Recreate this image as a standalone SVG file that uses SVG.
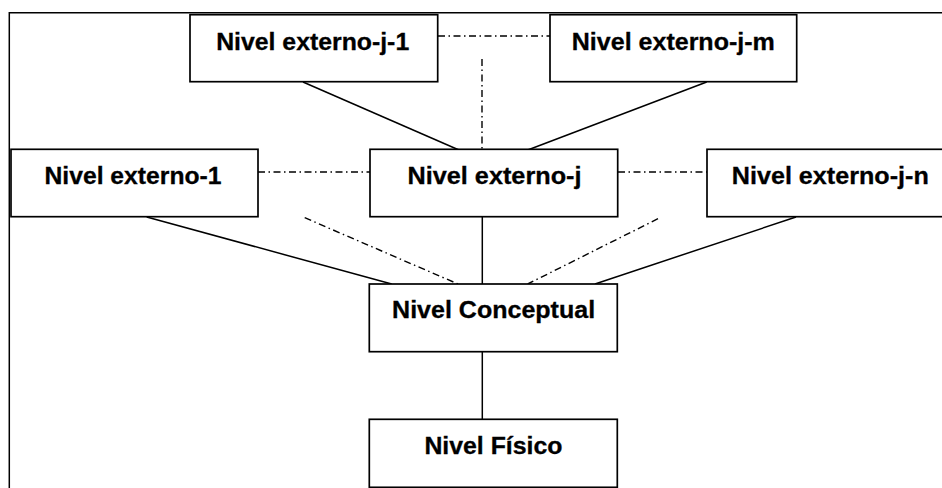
<svg xmlns="http://www.w3.org/2000/svg" width="942" height="488" viewBox="0 0 942 488">
  <style>
    .box { fill: #ffffff; stroke: #000000; stroke-width: 1.7; }
    .frame { fill: none; stroke: #000000; stroke-width: 1.5; }
    .link { fill: none; stroke: #000000; stroke-width: 1.5; }
    .alt { fill: none; stroke: #000000; stroke-width: 1.4; stroke-dasharray: 7 3.5 1.5 3.5; }
    .label { font-family: "Liberation Sans", Arial, Helvetica, sans-serif; font-weight: bold; font-size: 23px; fill: #000000; text-anchor: middle; stroke: #000000; stroke-width: 0.3; }
  </style>

  <!-- outer frame (open to the right and bottom) -->
  <path class="frame" d="M9.3,492 V12.7 H946"/>

  <!-- connectors -->
  <g id="connectors">
    <line class="link" x1="303" y1="82" x2="459" y2="150"/>
    <line class="link" x1="706.7" y1="82" x2="527.7" y2="150"/>
    <line class="link" x1="146.7" y1="217" x2="391.7" y2="284"/>
    <line class="link" x1="482.3" y1="217" x2="482.3" y2="284"/>
    <line class="link" x1="796" y1="217" x2="595" y2="284"/>
    <line class="link" x1="482.3" y1="352" x2="482.3" y2="419.3"/>

    <line class="alt" x1="438" y1="36" x2="550" y2="36"/>
    <line class="alt" x1="482" y1="59" x2="482" y2="150"/>
    <line class="alt" x1="258" y1="172" x2="370" y2="172"/>
    <line class="alt" x1="618" y1="172" x2="707" y2="172"/>
    <line class="alt" x1="304.7" y1="217.7" x2="458" y2="284"/>
    <line class="alt" x1="658" y1="218.7" x2="527.7" y2="284"/>
  </g>

  <g id="ext-j-1">
    <rect class="box" x="190" y="14.7" width="247.7" height="67"/>
    <text class="label" x="312.7" y="50" textLength="193" lengthAdjust="spacingAndGlyphs">Nivel externo-j-1</text>
  </g>

  <g id="ext-j-m">
    <rect class="box" x="550" y="14.7" width="246.7" height="67"/>
    <text class="label" x="673.3" y="50" textLength="203" lengthAdjust="spacingAndGlyphs">Nivel externo-j-m</text>
  </g>

  <g id="ext-1">
    <rect class="box" x="11" y="149.3" width="247" height="67.4"/>
    <text class="label" x="133" y="183.5" textLength="177" lengthAdjust="spacingAndGlyphs">Nivel externo-1</text>
  </g>

  <g id="ext-j">
    <rect class="box" x="370" y="149.3" width="247.7" height="67.4"/>
    <text class="label" x="494.5" y="183.5" textLength="174" lengthAdjust="spacingAndGlyphs">Nivel externo-j</text>
  </g>

  <g id="ext-j-n">
    <rect class="box" x="707" y="149.3" width="247" height="67.4"/>
    <text class="label" x="830.3" y="183.5" textLength="197" lengthAdjust="spacingAndGlyphs">Nivel externo-j-n</text>
  </g>

  <g id="conceptual">
    <rect class="box" x="369.3" y="284" width="248" height="67.7"/>
    <text class="label" x="493.6" y="317.5" textLength="203" lengthAdjust="spacingAndGlyphs">Nivel Conceptual</text>
  </g>

  <g id="fisico">
    <rect class="box" x="369.3" y="419.3" width="248" height="68"/>
    <text class="label" x="493.4" y="454.3" textLength="138" lengthAdjust="spacingAndGlyphs">Nivel Físico</text>
  </g>
</svg>
